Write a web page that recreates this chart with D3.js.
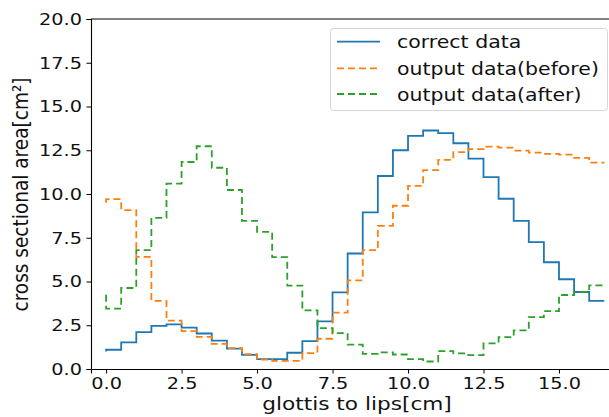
<!DOCTYPE html>
<html>
<head>
<meta charset="utf-8">
<script src="https://cdn.jsdelivr.net/npm/d3@7"></script>
<style>
  body { margin: 0; background: #fff; }
  svg { display: block; font-family: 'DejaVu Sans', sans-serif; }
</style>
</head>
<body>
<div id="chart"></div>
<script>
// positions along the tract, one step every 0.5 cm (first value is where the step line starts)
var positions = d3.range(34).map(function (i) { return i * 0.5; });

var correctData = [1.0, 1.10, 1.52, 2.11, 2.47, 2.55, 2.36, 2.03, 1.62, 1.17, 0.81, 0.56, 0.56, 0.93, 1.59, 2.72,
	4.38, 6.6, 8.95, 11.03, 12.5, 13.32, 13.63, 13.48, 12.9, 12.02, 10.96, 9.73, 8.47, 7.25, 6.10, 5.13, 4.40, 3.89];
var outputBefore = [9.5, 9.71, 9.08, 6.41, 3.89, 2.76, 2.17, 1.84, 1.44, 1.19, 0.85, 0.54, 0.47, 0.47, 0.91, 1.73,
	3.22, 5.07, 6.79, 8.18, 9.33, 10.47, 11.36, 11.95, 12.39, 12.56, 12.71, 12.65, 12.48, 12.37, 12.29, 12.25, 12.06, 11.79];
var outputAfter = [4.25, 3.45, 4.63, 6.79, 8.64, 10.59, 11.83, 12.73, 11.50, 10.23, 8.47, 7.84, 6.39, 4.77, 3.35, 2.34,
	2.05, 1.39, 0.87, 0.95, 0.83, 0.56, 0.43, 1.02, 0.89, 0.79, 1.46, 1.82, 2.21, 2.97, 3.31, 4.23, 4.40, 4.78];

var seriesNames = ['correct data', 'output data(before)', 'output data(after)'];
var seriesColors = ['#1f77b4', '#ff7f0e', '#2ca02c'];
var seriesDash = [null, '7,4', '7,4'];

var xTicks = [0, 2.5, 5, 7.5, 10, 12.5, 15];
var yTicks = [0, 2.5, 5, 7.5, 10, 12.5, 15, 17.5, 20];

// the picture is stretched sideways a bit, so text gets the same stretch
var sx = 1.17;

var W = 609, H = 417;
var margin = { top: 19, left: 91 };
var plotRight = 623, plotBottom = 369;

var svg = d3.select('#chart').append('svg').attr('width', W).attr('height', H);

var x = d3.scaleLinear().domain([-0.5, 17.12]).range([margin.left, plotRight]);
var y = d3.scaleLinear().domain([0, 20]).range([plotBottom, margin.top]);

// lines
var allSeries = [correctData, outputBefore, outputAfter];
var line = d3.line()
	.x(function (d, i) { return x(positions[i]); })
	.y(function (d) { return y(d); })
	.curve(d3.curveStepBefore);

svg.append('g').selectAll('path')
	.data(allSeries)
	.enter()
	.append('path')
	.attr('d', line)
	.attr('fill', 'none')
	.attr('stroke', function (d, i) { return seriesColors[i]; })
	.attr('stroke-width', 1.8)
	.attr('stroke-dasharray', function (d, i) { return seriesDash[i]; });

// axes
var xAxis = svg.append('g')
	.attr('transform', 'translate(0,' + plotBottom + ')')
	.call(d3.axisBottom(x).tickValues(xTicks).tickFormat(d3.format('.1f')).tickSizeOuter(0).tickSize(4.5).tickPadding(4));
var yAxis = svg.append('g')
	.attr('transform', 'translate(' + margin.left + ',0)')
	.call(d3.axisLeft(y).tickValues(yTicks).tickFormat(d3.format('.1f')).tickSizeOuter(0).tickSize(4.5).tickPadding(4.5));

[xAxis, yAxis].forEach(function (ax) {
	ax.select('.domain').attr('stroke', '#000').attr('stroke-width', 1.1);
	ax.selectAll('.tick line').attr('stroke', '#000').attr('stroke-width', 1);
	ax.selectAll('.tick text')
		.attr('fill', '#111')
		.attr('font-size', '16.5px')
		.attr('font-family', "'DejaVu Sans', sans-serif");
});
yAxis.selectAll('.tick text')
	.attr('x', -9 / sx)
	.attr('transform', 'scale(' + sx + ',1)');
xAxis.selectAll('.tick text')
	.attr('transform', 'scale(' + sx + ',1)');

// top spine
svg.append('line')
	.attr('x1', margin.left).attr('x2', plotRight)
	.attr('y1', margin.top).attr('y2', margin.top)
	.attr('stroke', '#000').attr('stroke-width', 1.1);

function addText(px, py, str, size, anchor, rot) {
	var g = svg.append('g')
		.attr('transform', 'translate(' + px + ',' + py + ') scale(' + sx + ',1)' + (rot ? ' rotate(' + rot + ')' : ''));
	return g.append('text')
		.attr('font-size', size + 'px')
		.attr('text-anchor', anchor)
		.attr('fill', '#111')
		.text(str);
}

addText(357, 410, 'glottis to lips[cm]', 18.5, 'middle');
addText(28, 194.5, 'cross sectional area[cm²]', 18.5, 'middle', -90);

// legend
var legend = svg.append('g');
legend.append('rect')
	.attr('x', 330.5).attr('y', 28.5)
	.attr('width', 277).attr('height', 82)
	.attr('rx', 3)
	.attr('fill', 'rgba(255,255,255,0.8)')
	.attr('stroke', '#d6d6d6');

var legendY = [41.7, 68.3, 94];
seriesNames.forEach(function (name, i) {
	legend.append('line')
		.attr('x1', 337).attr('x2', 380)
		.attr('y1', legendY[i]).attr('y2', legendY[i])
		.attr('stroke', seriesColors[i])
		.attr('stroke-width', 1.8)
		.attr('stroke-dasharray', seriesDash[i]);
	addText(397, legendY[i] + 6.5, name, 17.5, 'start');
});
</script>
</body>
</html>
